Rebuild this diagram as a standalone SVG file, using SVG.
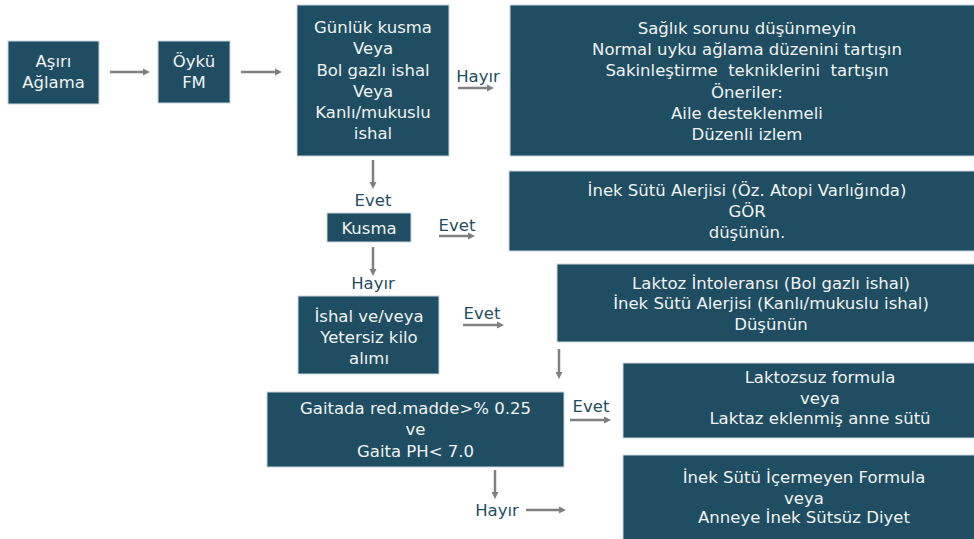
<svg xmlns="http://www.w3.org/2000/svg" width="974" height="539" viewBox="0 0 974 539">
<style>
.box{fill:#1f4e62;stroke:#c9d6dd;stroke-width:1}
.t{font-family:"DejaVu Sans","Open Sans","Noto Sans",sans-serif;font-size:16.5px;fill:#f2f2f2;text-anchor:middle}
.lbl{font-family:"DejaVu Sans","Open Sans","Noto Sans",sans-serif;font-size:16.5px;fill:#1f4e62;text-anchor:middle}
.c{stroke:#808080;stroke-width:2.5;fill:none;marker-end:url(#ah)}
</style>
<defs>
<marker id="ah" markerWidth="4" markerHeight="4" refX="1" refY="2" orient="auto" markerUnits="strokeWidth">
<path d="M0,0.5 L3,2 L0,3.5 Z" fill="#808080"/>
</marker>
</defs>
<rect width="974" height="539" fill="#ffffff"/>
<g id="connectors">
<line class="c" x1="110" y1="72" x2="145" y2="72"/>
<line class="c" x1="241" y1="72" x2="277" y2="72"/>
<line class="c" x1="458" y1="88" x2="489" y2="88"/>
<line class="c" x1="373" y1="160" x2="373" y2="184"/>
<line class="c" x1="439" y1="236" x2="470" y2="236"/>
<line class="c" x1="373" y1="247" x2="373" y2="271"/>
<line class="c" x1="463" y1="325" x2="499" y2="325"/>
<line class="c" x1="559" y1="349" x2="559" y2="374"/>
<line class="c" x1="570" y1="420" x2="606" y2="420"/>
<line class="c" x1="495" y1="470" x2="495" y2="494"/>
<line class="c" x1="526" y1="510" x2="561" y2="510"/>
<text class="lbl" x="478" y="82">Hayır</text>
<text class="lbl" x="373" y="206">Evet</text>
<text class="lbl" x="457" y="231">Evet</text>
<text class="lbl" x="373" y="289">Hayır</text>
<text class="lbl" x="482" y="319">Evet</text>
<text class="lbl" x="591" y="412">Evet</text>
<text class="lbl" x="497" y="516">Hayır</text>
</g>
<g id="n1">
<rect class="box" x="8" y="41" width="91" height="63"/>
<text class="t" x="53.5" y="67">Aşırı</text>
<text class="t" x="53.5" y="88">Ağlama</text>
</g>
<g id="n2">
<rect class="box" x="158" y="41" width="72" height="62"/>
<text class="t" x="194" y="67">Öykü</text>
<text class="t" x="194" y="88">FM</text>
</g>
<g id="n3">
<rect class="box" x="297" y="5" width="152" height="151"/>
<text class="t" x="373" y="33">Günlük kusma</text>
<text class="t" x="373" y="54">Veya</text>
<text class="t" x="373" y="76">Bol gazlı ishal</text>
<text class="t" x="373" y="97">Veya</text>
<text class="t" x="373" y="118">Kanlı/mukuslu</text>
<text class="t" x="373" y="139">ishal</text>
</g>
<g id="n4">
<rect class="box" x="510" y="5" width="480" height="151"/>
<text class="t" x="747" y="34">Sağlık sorunu düşünmeyin</text>
<text class="t" x="747" y="55">Normal uyku ağlama düzenini tartışın</text>
<text class="t" x="747" y="76" xml:space="preserve">Sakinleştirme  tekniklerini  tartışın</text>
<text class="t" x="747" y="98">Öneriler:</text>
<text class="t" x="747" y="119">Aile desteklenmeli</text>
<text class="t" x="747" y="140">Düzenli izlem</text>
</g>
<g id="n5">
<rect class="box" x="327" y="213" width="84" height="29"/>
<text class="t" x="369" y="234">Kusma</text>
</g>
<g id="n6">
<rect class="box" x="509" y="171" width="480" height="80"/>
<text class="t" x="747" y="196">İnek Sütü Alerjisi (Öz. Atopi Varlığında)</text>
<text class="t" x="747" y="217">GÖR</text>
<text class="t" x="747" y="238">düşünün.</text>
</g>
<g id="n7">
<rect class="box" x="298" y="296" width="141" height="78"/>
<text class="t" x="369" y="322">İshal ve/veya</text>
<text class="t" x="369" y="343">Yetersiz kilo</text>
<text class="t" x="369" y="364">alımı</text>
</g>
<g id="n8">
<rect class="box" x="557" y="264" width="430" height="78"/>
<text class="t" x="771" y="289">Laktoz İntoleransı (Bol gazlı ishal)</text>
<text class="t" x="771" y="309">İnek Sütü Alerjisi (Kanlı/mukuslu ishal)</text>
<text class="t" x="771" y="330">Düşünün</text>
</g>
<g id="n9">
<rect class="box" x="267" y="392" width="297" height="75"/>
<text class="t" x="415.5" y="414">Gaitada red.madde&gt;% 0.25</text>
<text class="t" x="415.5" y="435">ve</text>
<text class="t" x="415.5" y="457">Gaita PH&lt; 7.0</text>
</g>
<g id="n10">
<rect class="box" x="623" y="363" width="370" height="75"/>
<text class="t" x="820" y="383">Laktozsuz formula</text>
<text class="t" x="820" y="404">veya</text>
<text class="t" x="820" y="424">Laktaz eklenmiş anne sütü</text>
</g>
<g id="n11">
<rect class="box" x="623" y="455" width="370" height="100"/>
<text class="t" x="804" y="483">İnek Sütü İçermeyen Formula</text>
<text class="t" x="804" y="504">veya</text>
<text class="t" x="804" y="523">Anneye İnek Sütsüz Diyet</text>
</g>
</svg>
